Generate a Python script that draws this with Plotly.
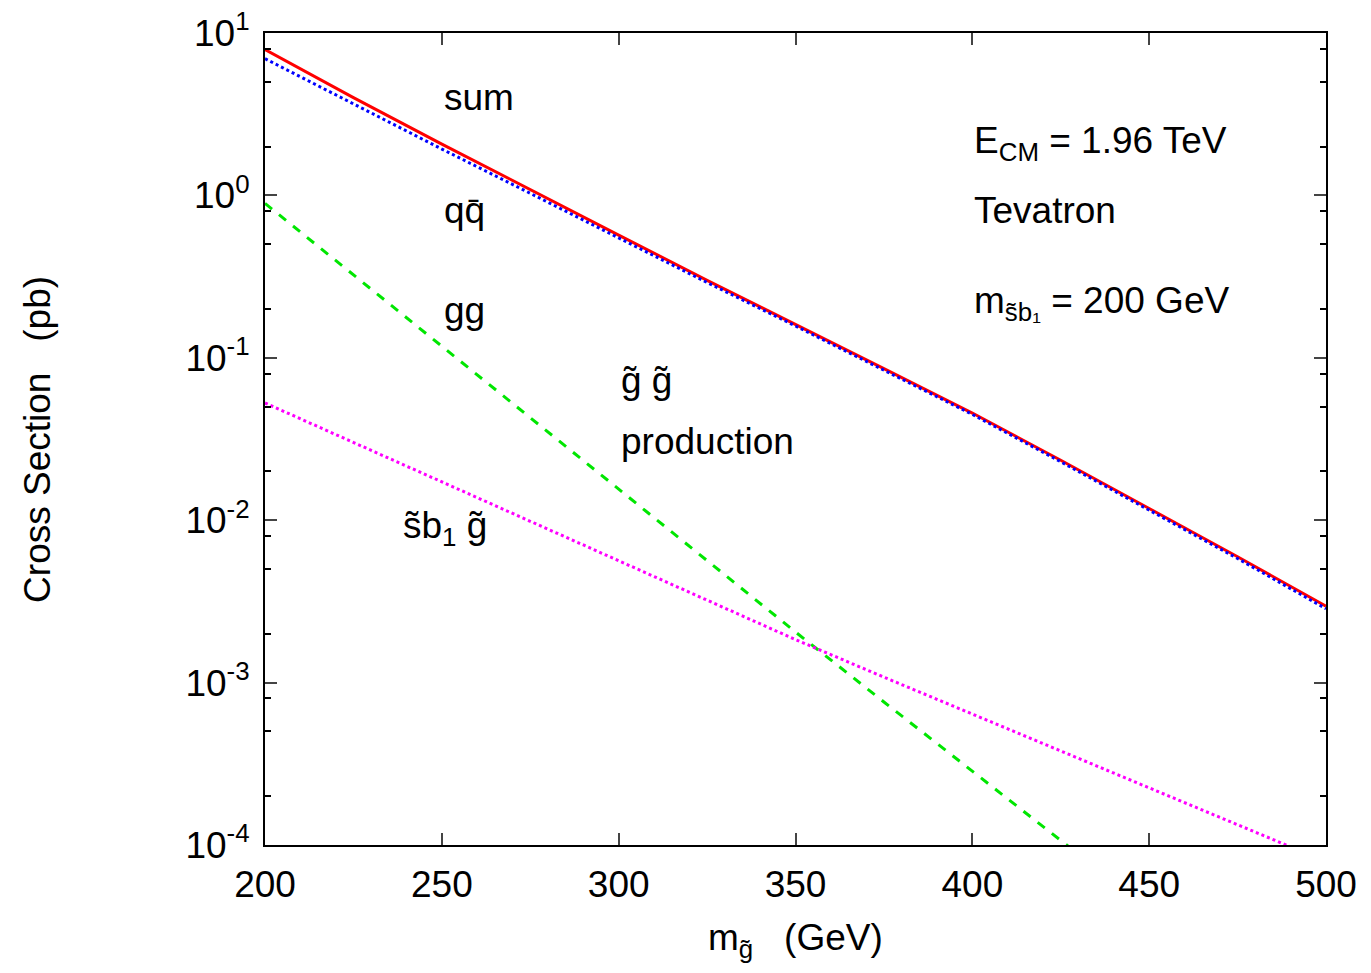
import plotly.graph_objects as go

mass = [200, 225, 250, 275, 300, 325, 350, 375, 400, 425, 450, 475, 500]
sigma_sum = [7.9, 4.0, 2.07, 1.08, 0.57, 0.30, 0.161, 0.0857, 0.0457, 0.0234, 0.0118, 0.00596, 0.00295]
sigma_qq = [6.95, 3.65, 1.93, 1.03, 0.549, 0.291, 0.157, 0.0838, 0.0448, 0.0229, 0.0115, 0.00581, 0.00285]
mass_gg = [200, 225, 250, 275, 300, 325, 350, 375, 400, 425, 450]
sigma_gg = [0.893, 0.324, 0.118, 0.0428, 0.0155, 0.00564, 0.00205, 7.6e-4, 2.85e-4, 1.07e-4, 4.0e-5]
sigma_sbg = [0.0527, 0.0301, 0.0172, 0.00984, 0.00562, 0.00321, 0.00184, 0.00108, 6.41e-4, 3.80e-4, 2.25e-4, 1.34e-4, 7.9e-5]

x_ticks = [200, 250, 300, 350, 400, 450, 500]
y_tick_exps = [1, 0, -1, -2, -3, -4]
y_minor_mult = [2, 5, 8]

FONT = "Liberation Sans, Arial, Helvetica, sans-serif"
FS = 37

fig = go.Figure()
fig.add_trace(go.Scatter(x=mass, y=sigma_sum, mode="lines", line=dict(color="#ff0000", width=3)))
fig.add_trace(go.Scatter(x=mass, y=sigma_qq, mode="lines", line=dict(color="#0000ff", width=3, dash="dot")))
fig.add_trace(go.Scatter(x=mass_gg, y=sigma_gg, mode="lines", line=dict(color="#00e600", width=3, dash="dash")))
fig.add_trace(go.Scatter(x=mass, y=sigma_sbg, mode="lines", line=dict(color="#ff00ff", width=3, dash="dot")))

y_vals = [10.0 ** e for e in y_tick_exps]
y_text = ["10<sup>%d</sup>" % e for e in y_tick_exps]
minor_vals = [m * 10.0 ** e for e in y_tick_exps[1:] for m in y_minor_mult]

fig.update_xaxes(range=[200, 500], tickvals=x_ticks, ticks="inside", ticklen=12, tickwidth=2,
                 showline=True, linewidth=2, linecolor="black", mirror="ticks", showgrid=False,
                 zeroline=False, ticklabelstandoff=6, ticklabeloverflow="allow", automargin=False,
                 tickfont=dict(family=FONT, size=FS, color="black"))
fig.update_yaxes(type="log", range=[-4, 1.0001], tickvals=y_vals, ticktext=y_text, ticks="inside", ticklen=12,
                 tickwidth=2, showline=True, linewidth=2, linecolor="black", mirror="ticks", showgrid=False,
                 zeroline=False, ticklabelstandoff=6, ticklabeloverflow="allow", automargin=False,
                 tickfont=dict(family=FONT, size=FS, color="black"),
                 minor=dict(tickvals=minor_vals, ticks="inside", ticklen=6, tickwidth=2, tickcolor="black", showgrid=False))

ann = [
    ("sum", 250, 0.606),
    ("qq\u0304", 250, -0.09),
    ("gg", 250, -0.706),
    ("g\u0303 g\u0303", 300, -1.137),
    ("production", 300, -1.518),
    ("s\u0303b<sub>1</sub> g\u0303", 238.5, -2.048),
    ("E<sub>CM</sub> = 1.96 TeV", 400, 0.323),
    ("Tevatron", 400, -0.09),
    ("m<sub>s\u0303b\u2081</sub> = 200 GeV", 400, -0.663),
]
for t, x, y in ann:
    fig.add_annotation(text=t, x=x, y=y, xref="x", yref="y", xanchor="left", yanchor="middle",
                       showarrow=False, font=dict(family=FONT, size=FS, color="black"))

fig.add_annotation(text="m<sub>g\u0303</sub>   (GeV)", x=0.5, y=-0.117, xref="paper", yref="paper",
                   xanchor="center", yanchor="middle", showarrow=False,
                   font=dict(family=FONT, size=FS, color="black"))
fig.add_annotation(text="Cross Section   (pb)", x=-0.215, y=0.5, xref="paper", yref="paper",
                   xanchor="center", yanchor="middle", textangle=-90, showarrow=False,
                   font=dict(family=FONT, size=FS, color="black"))

fig.update_layout(width=1371, height=973, margin=dict(l=257, r=53, t=25, b=136, autoexpand=False),
                  plot_bgcolor="white", paper_bgcolor="white", showlegend=False,
                  font=dict(family=FONT, size=FS, color="black"))
fig.write_html("out.html")
